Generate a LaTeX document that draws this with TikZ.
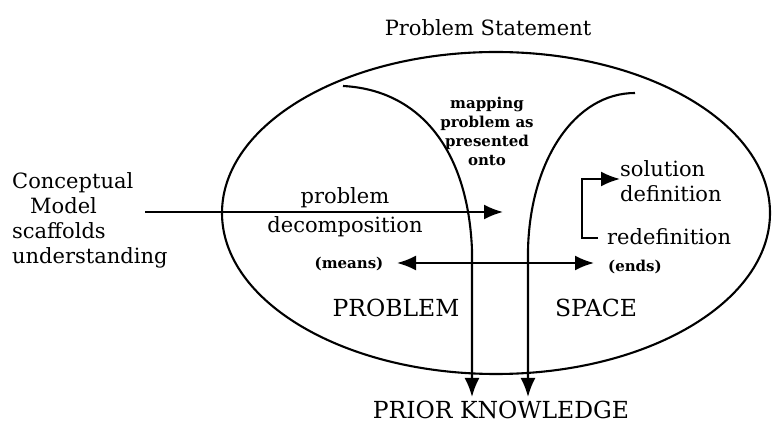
\documentclass[tikz,border=0pt]{standalone}
\usepackage{fontspec}
\setmainfont{DejaVu Serif}
\usetikzlibrary{arrows.meta}
\tikzset{
  line/.style={line width=2.1pt},
  ah/.tip={Latex[length=19pt,width=15pt]},
  tip/.style={-ah},
  lbl/.style={inner sep=0pt, font=\fontsize{21}{25}\selectfont},
  big/.style={inner sep=0pt, font=\fontsize{23.5}{26}\selectfont},
  small/.style={inner sep=0pt, font=\bfseries\fontsize{15}{19}\selectfont},
}
\begin{document}
\begin{tikzpicture}[x=1pt,y=-1pt]
\useasboundingbox (0,0) rectangle (772,427);
% ellipse
\draw[line] (496,213) ellipse [x radius=274, y radius=161];
% curves
\coordinate (lt) at (343,86);
\coordinate (lm) at (472,250);
\coordinate (lb) at (472,397);
\coordinate (rt) at (635,93);
\coordinate (rm) at (528,250);
\coordinate (rb) at (528,397);
\draw[line,tip] (lt) .. controls (420,90) and (468,150) .. (lm) -- (lb);
\draw[line,tip] (rt) .. controls (575,93) and (530,160) .. (rm) -- (rb);
% texts
\node[lbl] (ps) at (488,28) {Problem Statement};
\node[small, align=center] (map) at (487,131) {mapping\\problem as\\presented\\onto};
\node[lbl, align=left, anchor=west] (cm) at (12,220) {Conceptual\\\hspace*{18pt}Model\\scaffolds\\understanding};
\node[lbl, align=center, font=\fontsize{21}{29}\selectfont] (pd) at (345,212) {problem\\decomposition};
\node[small] (means) at (349,264) {(means)};
\node[small, anchor=west] (ends) at (608,267) {(ends)};
\node[big] (prob) at (396,308) {PROBLEM};
\node[big] (space) at (596,308) {SPACE};
\node[big, anchor=base] (pk) at (501,419) {PRIOR KNOWLEDGE};
\node[lbl, anchor=west, align=left] (sol) at (620,181) {solution\\definition};
\node[lbl, anchor=west] (redef) at (607,237) {redefinition};
% arrows
\coordinate (cmend) at (145,212);
\coordinate (pdtip) at (503,212);
\draw[line,tip] (cmend) -- (pdtip);
\coordinate (dl) at (397,263);
\coordinate (dr) at (594,263);
\draw[line,ah-ah] (dl) -- (dr);
\coordinate (bt) at (582,179);
\coordinate (bb) at (582,238);
\draw[line,tip] (redef.west) ++(-9,1) -| (bb) -- (bt) -- (sol.west |- bt);
\end{tikzpicture}
\end{document}
